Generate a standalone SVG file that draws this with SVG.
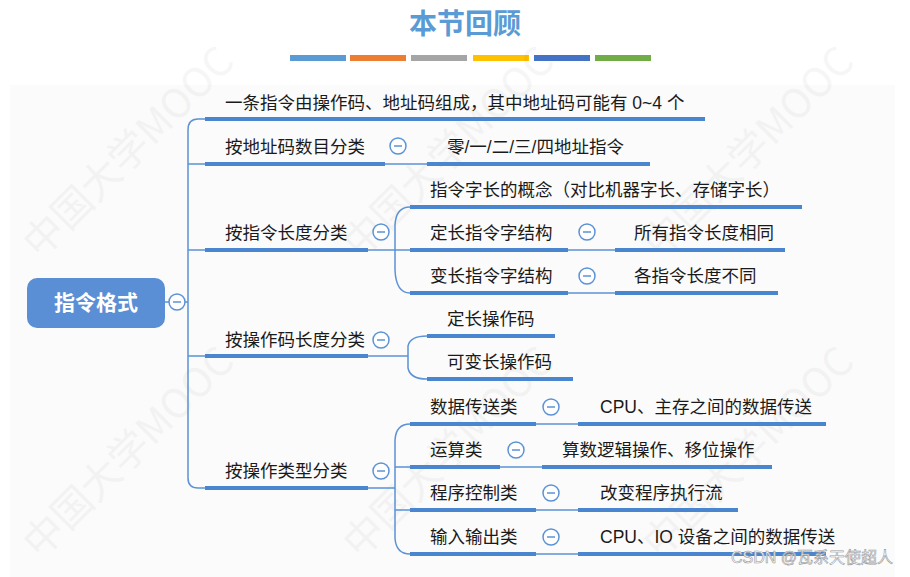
<svg xmlns="http://www.w3.org/2000/svg" width="910" height="577" viewBox="0 0 910 577">
<style>
.t{font-family:"Liberation Sans","Noto Sans CJK SC",sans-serif;font-size:17.5px;fill:#1a1a1a}
.u{stroke:#4a86cf;stroke-width:4;fill:none}
.l{stroke:#5b93d6;stroke-width:1.5;fill:none}
.c{fill:#fff;stroke:#5b93d6;stroke-width:1.5}
.m{stroke:#5b93d6;stroke-width:1.5}
.wm{font-family:"Noto Sans CJK SC",sans-serif;font-size:40px;fill:#000;opacity:0.03}
</style>
<defs>
<g id="mn"><circle class="c" r="8"/><line class="m" x1="-4" y1="0" x2="4" y2="0"/></g>
</defs>
<rect width="910" height="577" fill="#fff"/>
<rect x="10" y="85" width="885" height="492" fill="#fbfbfb"/>
<g id="title">
<text x="465" y="34" text-anchor="middle" font-family="Noto Sans CJK SC,sans-serif" font-size="28" font-weight="bold" fill="#5b9bd5">本节回顾</text>
<rect x="290" y="55" width="56" height="6" fill="#5b9bd5"/>
<rect x="350" y="55" width="56" height="6" fill="#ed7d31"/>
<rect x="411" y="55" width="56" height="6" fill="#a5a5a5"/>
<rect x="473" y="55" width="56" height="6" fill="#ffc000"/>
<rect x="534" y="55" width="56" height="6" fill="#4472c4"/>
<rect x="595" y="55" width="56" height="6" fill="#70ad47"/>
</g>
<g id="watermark">
<text class="wm" transform="translate(40,560) rotate(-45)">中国大学MOOC</text>
<text class="wm" transform="translate(360,260) rotate(-45)">中国大学MOOC</text>
<text class="wm" transform="translate(360,560) rotate(-45)">中国大学MOOC</text>
<text class="wm" transform="translate(660,260) rotate(-45)">中国大学MOOC</text>
<text class="wm" transform="translate(660,560) rotate(-45)">中国大学MOOC</text>
<text class="wm" transform="translate(40,260) rotate(-45)">中国大学MOOC</text>
</g>
<g id="connectors">
<line class="l" x1="165" y1="302" x2="169" y2="302"/>
<line class="l" x1="185" y1="302" x2="188" y2="302"/>
<path class="l" d="M205,119 H198 Q188,119 188,130 V478 Q188,488 198,488 H205"/>
<path class="l" d="M188,164 H205 M188,250 H205 M188,356 H205"/>
<line class="l" x1="385" y1="164" x2="427" y2="164"/>
<line class="l" x1="368" y1="250" x2="410" y2="250"/>
<path class="l" d="M410,207 Q396,207 395,225 V270 Q396,293 410,293"/>
<line class="l" x1="568" y1="250" x2="615" y2="250"/>
<line class="l" x1="568" y1="293" x2="615" y2="293"/>
<line class="l" x1="368" y1="356" x2="408" y2="356"/>
<path class="l" d="M427,336 Q410,336 408,346 V368 Q410,379 427,379"/>
<path class="l" d="M368,488 H395 M410,424 Q396,424 395,440 V538 Q396,554 410,554 M395,467 H410 M395,510 H410"/>
<line class="l" x1="536" y1="424" x2="578" y2="424"/>
<line class="l" x1="500" y1="467" x2="542" y2="467"/>
<line class="l" x1="536" y1="510" x2="578" y2="510"/>
<line class="l" x1="536" y1="554" x2="578" y2="554"/>
</g>
<g id="root">
<rect x="27" y="278" width="138" height="50" rx="10" fill="#5a8fd6"/>
<text x="96" y="310" text-anchor="middle" font-family="Noto Sans CJK SC,sans-serif" font-size="21" font-weight="bold" fill="#fff">指令格式</text>
<use href="#mn" x="177" y="302"/>
</g>
<g id="n1"><text class="t" x="225" y="109">一条指令由操作码、地址码组成，其中地址码可能有 0~4 个</text><line class="u" x1="205" y1="119" x2="705" y2="119"/></g>
<g id="n2"><text class="t" x="225" y="153">按地址码数目分类</text><line class="u" x1="205" y1="164" x2="385" y2="164"/><use href="#mn" x="398" y="146"/></g>
<g id="n2a"><text class="t" x="447" y="153">零/一/二/三/四地址指令</text><line class="u" x1="427" y1="164" x2="650" y2="164"/></g>
<g id="n3"><text class="t" x="225" y="239">按指令长度分类</text><line class="u" x1="205" y1="250" x2="368" y2="250"/><use href="#mn" x="381" y="232"/></g>
<g id="n3a"><text class="t" x="430" y="196">指令字长的概念（对比机器字长、存储字长）</text><line class="u" x1="410" y1="207" x2="802" y2="207"/></g>
<g id="n3b"><text class="t" x="430" y="239">定长指令字结构</text><line class="u" x1="410" y1="250" x2="568" y2="250"/><use href="#mn" x="587" y="232"/></g>
<g id="n3b1"><text class="t" x="634" y="239">所有指令长度相同</text><line class="u" x1="615" y1="250" x2="785" y2="250"/></g>
<g id="n3c"><text class="t" x="430" y="282">变长指令字结构</text><line class="u" x1="410" y1="293" x2="568" y2="293"/><use href="#mn" x="587" y="276"/></g>
<g id="n3c1"><text class="t" x="634" y="282">各指令长度不同</text><line class="u" x1="615" y1="293" x2="778" y2="293"/></g>
<g id="n4"><text class="t" x="225" y="346">按操作码长度分类</text><line class="u" x1="205" y1="356" x2="368" y2="356"/><use href="#mn" x="381" y="340"/></g>
<g id="n4a"><text class="t" x="447" y="325">定长操作码</text><line class="u" x1="427" y1="336" x2="555" y2="336"/></g>
<g id="n4b"><text class="t" x="447" y="368">可变长操作码</text><line class="u" x1="427" y1="379" x2="573" y2="379"/></g>
<g id="n5"><text class="t" x="225" y="477">按操作类型分类</text><line class="u" x1="205" y1="488" x2="368" y2="488"/><use href="#mn" x="381" y="471"/></g>
<g id="n5a"><text class="t" x="430" y="413">数据传送类</text><line class="u" x1="410" y1="424" x2="536" y2="424"/><use href="#mn" x="551" y="407"/></g>
<g id="n5a1"><text class="t" x="600" y="413">CPU、主存之间的数据传送</text><line class="u" x1="578" y1="424" x2="826" y2="424"/></g>
<g id="n5b"><text class="t" x="430" y="456">运算类</text><line class="u" x1="410" y1="467" x2="500" y2="467"/><use href="#mn" x="516" y="450"/></g>
<g id="n5b1"><text class="t" x="562" y="456">算数逻辑操作、移位操作</text><line class="u" x1="542" y1="467" x2="772" y2="467"/></g>
<g id="n5c"><text class="t" x="430" y="499">程序控制类</text><line class="u" x1="410" y1="510" x2="536" y2="510"/><use href="#mn" x="551" y="493"/></g>
<g id="n5c1"><text class="t" x="600" y="499">改变程序执行流</text><line class="u" x1="578" y1="510" x2="738" y2="510"/></g>
<g id="n5d"><text class="t" x="430" y="543">输入输出类</text><line class="u" x1="410" y1="554" x2="536" y2="554"/><use href="#mn" x="551" y="537"/></g>
<g id="n5d1"><text class="t" x="600" y="543">CPU、IO 设备之间的数据传送</text><line class="u" x1="578" y1="554" x2="826" y2="554"/></g>
<text x="893" y="563" text-anchor="end" font-family="Liberation Sans,Noto Sans CJK SC,sans-serif" font-size="16" fill="#fff" stroke="#999" stroke-width="0.6">CSDN @瓦系天使超人</text>
</svg>
